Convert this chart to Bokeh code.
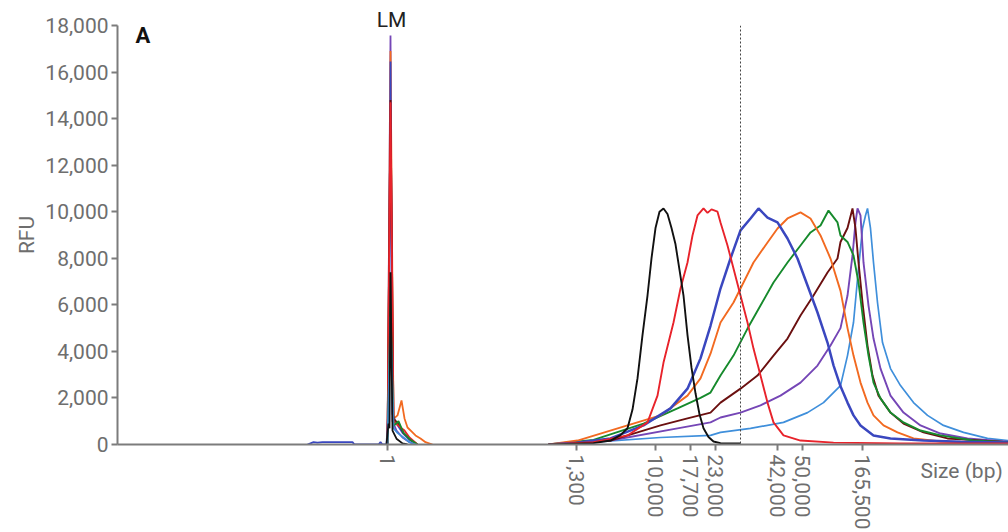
from bokeh.plotting import figure
from bokeh.models import FixedTicker, NumeralTickFormatter, Label, Span, Range1d, LinearAxis
from bokeh.embed import file_html
from bokeh.resources import INLINE

# ---------------- data (x = migration position, y = RFU) ----------------
ladder_pos = [270, 459, 538, 573, 598, 660, 685, 745]
ladder_labels = ["1", "1,300", "10,000", "17,700", "23,000", "42,000", "50,000", "165,500"]
rfu_ticks = [0, 2000, 4000, 6000, 8000, 10000, 12000, 14000, 16000, 18000]
upper_line_pos = 623
lm_pos = 274

black_t = [431, 476, 493, 503, 510, 515, 520, 525, 530, 534, 538, 542, 546, 550, 554, 558, 562, 566, 570, 574, 578, 582, 586, 591, 596, 603, 623]
black_v = [0, 60, 170, 400, 700, 1500, 2840, 4700, 6400, 8000, 9300, 10000, 10140, 9900, 9300, 8600, 7500, 6400, 4700, 3300, 2200, 1300, 700, 320, 130, 60, 40]

red_t = [431, 476, 510, 530, 540, 546, 556, 563, 570, 575, 580, 586, 590, 594, 600, 603, 610, 616, 623, 630, 636, 643, 650, 656, 666, 683, 716, 783, 891]
red_v = [0, 100, 390, 950, 2100, 3520, 5240, 6700, 7820, 8980, 9840, 10140, 9950, 10100, 10000, 9540, 8550, 7560, 6400, 5240, 4120, 2960, 1800, 950, 390, 170, 80, 50, 40]

blue_t = [431, 459, 493, 526, 553, 570, 583, 593, 603, 613, 623, 633, 641, 650, 660, 670, 680, 690, 700, 710, 716, 723, 730, 736, 743, 756, 773, 806, 843, 891]
blue_v = [0, 80, 260, 820, 1550, 2400, 3700, 5100, 6700, 7990, 9200, 9710, 10140, 9750, 9540, 8850, 7990, 6830, 5670, 4380, 3400, 2500, 1800, 1250, 820, 390, 260, 170, 120, 90]

orange_t = [431, 460, 510, 543, 570, 583, 593, 603, 616, 626, 636, 650, 660, 670, 683, 693, 703, 713, 723, 730, 736, 743, 750, 756, 766, 780, 796, 823, 891]
orange_v = [0, 170, 820, 1250, 2100, 2840, 3900, 5240, 6100, 6960, 7820, 8680, 9280, 9710, 9970, 9710, 8980, 7990, 6600, 5000, 3820, 2660, 1800, 1250, 820, 520, 260, 130, 60]

green_t = [431, 476, 526, 560, 583, 593, 603, 616, 630, 643, 656, 670, 683, 693, 703, 711, 720, 723, 730, 736, 741, 746, 751, 756, 763, 773, 786, 803, 823, 856, 891]
green_v = [0, 200, 900, 1550, 2000, 2230, 2960, 3820, 4980, 5970, 6960, 7820, 8550, 9110, 9410, 10050, 9540, 8980, 8700, 8120, 6960, 5240, 3820, 2660, 1980, 1370, 950, 600, 390, 170, 100]

maroon_t = [431, 493, 543, 570, 593, 603, 623, 640, 656, 670, 683, 696, 710, 720, 723, 730, 735, 738, 741, 745, 750, 755, 761, 773, 786, 806, 830, 891]
maroon_v = [0, 170, 820, 1120, 1370, 1800, 2400, 2960, 3820, 4550, 5540, 6400, 7390, 7990, 8700, 9300, 10140, 9280, 7820, 6100, 4250, 2960, 2100, 1370, 900, 520, 260, 100]

purple_t = [431, 493, 560, 593, 603, 623, 643, 663, 683, 700, 713, 723, 730, 735, 738, 740, 743, 746, 751, 756, 763, 773, 786, 803, 823, 850, 891]
purple_v = [0, 170, 690, 950, 1160, 1370, 1680, 2100, 2660, 3390, 4250, 5000, 6400, 8120, 9540, 10140, 9840, 7820, 5970, 4550, 3260, 2100, 1370, 820, 470, 260, 120]

lightblue_t = [431, 476, 543, 593, 603, 633, 666, 690, 706, 723, 730, 736, 741, 745, 748, 750, 753, 756, 760, 765, 773, 783, 796, 810, 826, 846, 870, 891]
lightblue_v = [0, 100, 300, 390, 520, 690, 950, 1370, 1800, 2530, 3820, 5240, 7560, 9280, 9840, 10140, 9280, 7820, 6100, 4380, 3260, 2530, 1800, 1250, 820, 520, 260, 170]

# lower-marker (LM) region for each trace
lm_purple_t = [270, 273, 275, 279, 285, 292, 298]
lm_purple_v = [0, 17570, 1000, 600, 300, 100, 0]
lm_orange_t = [270, 273, 276, 280, 284, 287, 290, 295, 298, 303, 308, 315]
lm_orange_v = [0, 16900, 1100, 1250, 1890, 1120, 730, 520, 390, 260, 100, 0]
lm_blue_t = [190, 196, 200, 205, 235, 237, 261, 263, 265, 269, 271, 273, 275, 279, 285, 292, 300]
lm_blue_v = [0, 100, 80, 100, 100, 0, 0, 100, 0, 0, 1590, 16450, 1300, 900, 500, 200, 0]
lm_maroon_t = [270, 273, 276, 281, 286, 293, 300]
lm_maroon_v = [0, 14800, 1100, 900, 500, 200, 0]
lm_red_t = [270, 273, 276, 281, 287, 292, 300]
lm_red_v = [0, 14700, 1000, 800, 600, 300, 0]
lm_green_t = [270, 273, 276, 281, 286, 293, 300]
lm_green_v = [0, 6000, 800, 1000, 500, 200, 0]
lm_lightblue_t = [270, 273, 276, 280, 286, 292, 298]
lm_lightblue_v = [0, 5500, 700, 500, 300, 100, 0]
lm_black_t = [269, 271, 272, 273, 275, 279, 285, 290]
lm_black_v = [0, 900, 700, 7400, 600, 250, 50, 0]

# ---------------- figure ----------------
FONT = "Roboto"
GRAY = "#6e6e6e"
AXIS = "#7c7c7c"

p = figure(width=1008, height=532, output_backend="svg", toolbar_location=None,
           x_range=Range1d(0, 891), y_range=Range1d(0, 18000),
           min_border_left=117, min_border_right=0, min_border_top=25, min_border_bottom=88)
p.outline_line_color = None
p.grid.visible = False
p.background_fill_color = "white"
p.border_fill_color = "white"

colors = {
    "black": "#111111", "red": "#e8232b", "blue": "#3a47bf", "orange": "#f26a21",
    "green": "#168a2c", "maroon": "#6b1010", "purple": "#7546b6", "lightblue": "#3f8fdb",
}

# LM peaks, tallest first
for t, v, c in [(lm_purple_t, lm_purple_v, "purple"), (lm_orange_t, lm_orange_v, "orange"),
                (lm_blue_t, lm_blue_v, "blue"), (lm_maroon_t, lm_maroon_v, "maroon"),
                (lm_red_t, lm_red_v, "red"), (lm_green_t, lm_green_v, "green"),
                (lm_lightblue_t, lm_lightblue_v, "lightblue"), (lm_black_t, lm_black_v, "black")]:
    p.line(t, v, line_color=colors[c], line_width=1.8)

for t, v, c, w in [(lightblue_t, lightblue_v, "lightblue", 1.7), (purple_t, purple_v, "purple", 1.9),
                   (maroon_t, maroon_v, "maroon", 1.9), (green_t, green_v, "green", 1.9),
                   (orange_t, orange_v, "orange", 1.9), (blue_t, blue_v, "blue", 2.5),
                   (red_t, red_v, "red", 1.9), (black_t, black_v, "black", 1.9)]:
    p.line(t, v, line_color=colors[c], line_width=w)

p.add_layout(Span(location=upper_line_pos, dimension="height", line_color="#444444",
                  line_width=1, line_dash="2 2"))

for ax in (p.xaxis[0], p.yaxis[0]):
    ax.axis_line_color = AXIS
    ax.axis_line_width = 2
    ax.major_tick_line_color = AXIS
    ax.major_tick_line_width = 2
    ax.major_tick_out = 6
    ax.major_tick_in = 0
    ax.minor_tick_line_color = None
    ax.major_label_text_font = FONT
    ax.major_label_text_font_size = "21px"
    ax.major_label_text_color = GRAY

p.yaxis.ticker = FixedTicker(ticks=rfu_ticks)
p.yaxis.formatter = NumeralTickFormatter(format="0,0")
p.yaxis.major_label_standoff = 3
p.yaxis.axis_label = "RFU"
p.yaxis.axis_label_text_font = FONT
p.yaxis.axis_label_text_font_size = "21px"
p.yaxis.axis_label_text_font_style = "normal"
p.yaxis.axis_label_text_color = GRAY
p.yaxis.axis_label_standoff = 3

xax = p.xaxis[0]
xax.ticker = FixedTicker(ticks=ladder_pos)
xax.major_label_overrides = {pos: lab for pos, lab in zip(ladder_pos, ladder_labels)}
xax.major_label_orientation = "vertical"
xax.major_label_standoff = 4
# axis title centred on the right end of the axis; trailing no-break spaces move
# the visible words left so that they sit fully inside the picture
xax.axis_label = "Size (bp)" + "\u00a0" * 18
xax.axis_label_text_font = FONT
xax.axis_label_text_font_size = "21px"
xax.axis_label_text_font_style = "normal"
xax.axis_label_text_color = GRAY
xax.axis_label_align = "end"
xax.axis_label_standoff = -73

# "LM" marker label above the frame, as a label-only axis
lm_axis = LinearAxis(ticker=FixedTicker(ticks=[lm_pos]), major_label_overrides={lm_pos: "LM"},
                     axis_line_color=None, major_tick_line_color=None, minor_tick_line_color=None,
                     major_tick_out=0, major_tick_in=0, major_label_standoff=-6,
                     major_label_text_font=FONT, major_label_text_font_size="21px",
                     major_label_text_color="#222222")
p.add_layout(lm_axis, "above")

p.add_layout(Label(x=18, y=17570, text="A", text_font=FONT, text_font_size="22px",
                   text_font_style="bold", text_color="#111111", text_baseline="middle",
                   text_align="left"))

open("out.html", "w").write(file_html(p, INLINE))
